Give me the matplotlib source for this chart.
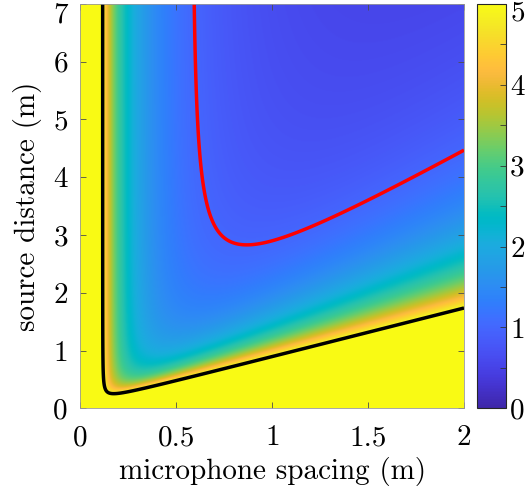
import numpy as np
import matplotlib
matplotlib.use("Agg")
import matplotlib.pyplot as plt
from matplotlib.transforms import ScaledTranslation

# Axis ranges (m)
spacing_range = [0.0, 2.0]
distance_range = [0.0, 7.0]

# Error model: spatial-resolution term (A / d) plus near-field term B * (d / r)^2
resolution_coef = 0.578
nearfield_coef = 3.55

# Colour scale and iso-error contours
color_limits = [0, 5]
contour_levels = [1, 5]

x_ticks = [0, 0.5, 1, 1.5, 2]
x_tick_labels = ["0", "0.5", "1", "1.5", "2"]
y_ticks = [0, 1, 2, 3, 4, 5, 6, 7]
y_tick_labels = ["0", "1", "2", "3", "4", "5", "6", "7"]
cbar_ticks = [0, 1, 2, 3, 4, 5]
cbar_tick_labels = ["0", "1", "2", "3", "4", "5"]

# parula colour map
_parula = [
    [0.2422, 0.1504, 0.6603], [0.2504, 0.1650, 0.7076], [0.2578, 0.1818, 0.7511],
    [0.2647, 0.1978, 0.7952], [0.2706, 0.2147, 0.8364], [0.2751, 0.2342, 0.8710],
    [0.2783, 0.2559, 0.8991], [0.2803, 0.2782, 0.9221], [0.2813, 0.3006, 0.9414],
    [0.2810, 0.3228, 0.9579], [0.2795, 0.3447, 0.9717], [0.2760, 0.3667, 0.9829],
    [0.2699, 0.3892, 0.9906], [0.2602, 0.4123, 0.9952], [0.2440, 0.4358, 0.9988],
    [0.2206, 0.4603, 0.9973], [0.1963, 0.4847, 0.9892], [0.1834, 0.5074, 0.9798],
    [0.1786, 0.5289, 0.9682], [0.1764, 0.5499, 0.9520], [0.1687, 0.5703, 0.9359],
    [0.1540, 0.5902, 0.9218], [0.1460, 0.6091, 0.9079], [0.1380, 0.6276, 0.8973],
    [0.1248, 0.6459, 0.8883], [0.1113, 0.6635, 0.8763], [0.0952, 0.6798, 0.8598],
    [0.0689, 0.6948, 0.8394], [0.0297, 0.7082, 0.8163], [0.0036, 0.7203, 0.7917],
    [0.0067, 0.7312, 0.7660], [0.0433, 0.7411, 0.7394], [0.0964, 0.7500, 0.7120],
    [0.1408, 0.7584, 0.6842], [0.1717, 0.7670, 0.6554], [0.1938, 0.7758, 0.6251],
    [0.2161, 0.7843, 0.5923], [0.2470, 0.7918, 0.5567], [0.2906, 0.7973, 0.5188],
    [0.3406, 0.8008, 0.4789], [0.3909, 0.8029, 0.4354], [0.4456, 0.8024, 0.3909],
    [0.5044, 0.7993, 0.3480], [0.5616, 0.7942, 0.3045], [0.6174, 0.7876, 0.2612],
    [0.6720, 0.7793, 0.2227], [0.7242, 0.7698, 0.1910], [0.7738, 0.7598, 0.1646],
    [0.8203, 0.7498, 0.1535], [0.8634, 0.7406, 0.1596], [0.9035, 0.7330, 0.1774],
    [0.9393, 0.7288, 0.2100], [0.9728, 0.7298, 0.2394], [0.9956, 0.7434, 0.2371],
    [0.9970, 0.7659, 0.2199], [0.9952, 0.7893, 0.2028], [0.9892, 0.8136, 0.1885],
    [0.9786, 0.8386, 0.1766], [0.9676, 0.8639, 0.1643], [0.9610, 0.8890, 0.1537],
    [0.9597, 0.9135, 0.1423], [0.9628, 0.9373, 0.1265], [0.9691, 0.9606, 0.1064],
    [0.9769, 0.9839, 0.0805],
]
parula = matplotlib.colors.LinearSegmentedColormap.from_list("parula", _parula, N=256)

plt.rcParams["font.family"] = ["cmr10", "DejaVu Serif"]
plt.rcParams["mathtext.fontset"] = "cm"
plt.rcParams["axes.formatter.use_mathtext"] = True
plt.rcParams["font.size"] = 21

d = np.linspace(spacing_range[0] + 1e-4, spacing_range[1], 900)
r = np.linspace(distance_range[0] + 1e-4, distance_range[1], 900)
D, R = np.meshgrid(d, r)
err = resolution_coef / D + nearfield_coef * (D / R) ** 2

fig = plt.figure(figsize=(5.25, 4.97), dpi=100)
ax = fig.add_axes([0.1533, 0.1785, 0.7305, 0.8135])
cax = fig.add_axes([0.9086, 0.1785, 0.0552, 0.8135])

im = ax.imshow(np.clip(err, color_limits[0], color_limits[1] + 1), origin="lower",
               extent=[spacing_range[0], spacing_range[1], distance_range[0], distance_range[1]],
               aspect="auto", cmap=parula, vmin=color_limits[0], vmax=color_limits[1],
               interpolation="bilinear")
ax.contour(D, R, err, levels=[contour_levels[1]], colors="black", linewidths=2.5)
ax.contour(D, R, err, levels=[contour_levels[0]], colors="red", linewidths=2.5)

ax.set_xlim(spacing_range)
ax.set_ylim(distance_range)
ax.set_xticks(x_ticks)
ax.set_xticklabels(x_tick_labels)
ax.set_yticks(y_ticks)
ax.set_yticklabels(y_tick_labels)
ax.tick_params(direction="in", length=4, width=0.6, color="0.3", top=True, right=True)
ax.tick_params(axis="x", pad=12)
ax.tick_params(axis="y", pad=9)
for s in ax.spines.values():
    s.set_color("0.6")
    s.set_linewidth(0.6)
ax.set_xlabel("microphone spacing (m)", labelpad=4)
ax.set_ylabel("source distance (m)", labelpad=8)

cb = fig.colorbar(im, cax=cax)
cb.set_ticks(cbar_ticks)
cb.set_ticklabels(cbar_tick_labels)
cb.ax.yaxis.set_minor_locator(matplotlib.ticker.MultipleLocator(0.5))
cb.ax.tick_params(which="both", direction="in", length=4, width=0.6, color="0.2", pad=3)
cb.outline.set_linewidth(0.8)
cb.outline.set_edgecolor("0.15")

# keep the topmost tick labels inside the figure
top_label = ax.get_yticklabels()[-1]
top_label.set_transform(top_label.get_transform() + ScaledTranslation(0, -0.08, fig.dpi_scale_trans))
cb_top = cb.ax.get_yticklabels()[-1]
cb_top.set_transform(cb_top.get_transform() + ScaledTranslation(0, -0.06, fig.dpi_scale_trans))

fig.savefig("out.png", dpi=100)
